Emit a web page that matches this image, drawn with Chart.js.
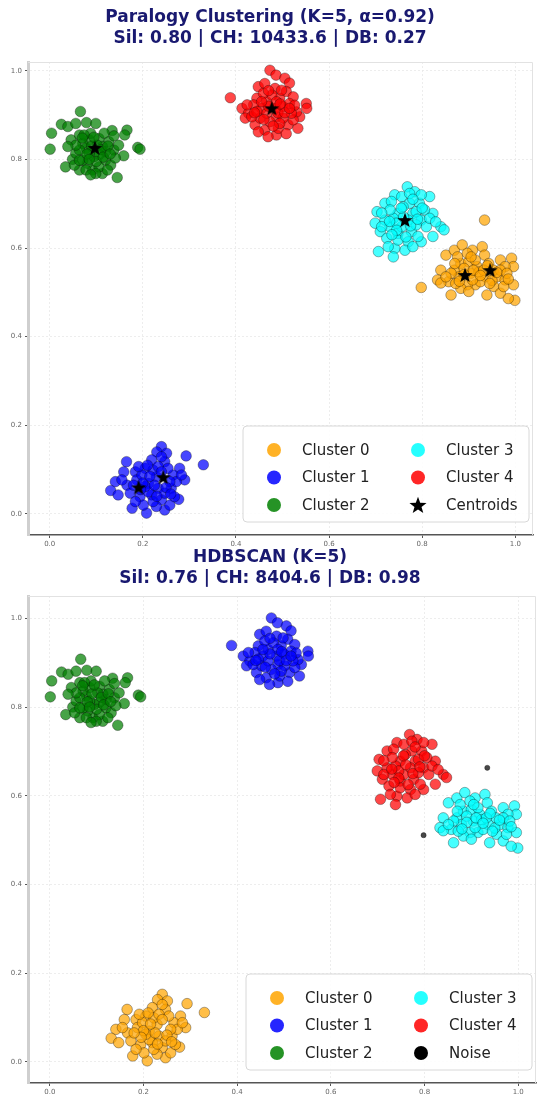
<!DOCTYPE html>
<html>
<head>
<meta charset="utf-8">
<script src="https://cdn.jsdelivr.net/npm/chart.js@4.4.1/dist/chart.umd.min.js"></script>
<style>
  html, body { margin: 0; padding: 0; background: #ffffff; width: 542px; height: 1094px; overflow: hidden; }
  canvas { position: absolute; left: 0; }
  #topChart { top: 0; }
  #bottomChart { top: 546px; }
</style>
</head>
<body>
<canvas id="topChart" width="542" height="548"></canvas>
<canvas id="bottomChart" width="542" height="548"></canvas>
<script>
// ---- tick values ----
const xTicks = [0.0, 0.2, 0.4, 0.6, 0.8, 1.0];
const yTicks = [0.0, 0.2, 0.4, 0.6, 0.8, 1.0];

// ---- point groups [x, y] ----
const ptsUpperLeft = [
  [0.066,0.908],[0.025,0.879],[0.039,0.874],[0.056,0.881],[0.079,0.883],[0.099,0.881],
  [0.004,0.859],[0.001,0.823],[0.134,0.865],[0.166,0.866],[0.161,0.855],[0.189,0.827],
  [0.194,0.823],[0.159,0.808],[0.049,0.800],[0.034,0.783],[0.064,0.776],[0.145,0.759],
  [0.113,0.768],[0.092,0.776],[0.046,0.844],[0.064,0.855],[0.127,0.840],[0.138,0.821],
  [0.078,0.825],[0.120,0.798],[0.106,0.783],[0.081,0.791],[0.056,0.814],[0.085,0.844],
  [0.106,0.847],[0.113,0.829],[0.071,0.836],[0.095,0.806],[0.071,0.798],[0.120,0.817],
  [0.088,0.859],[0.064,0.821],[0.106,0.811],[0.078,0.776],[0.131,0.787],[0.117,0.859],
  [0.056,0.832],[0.099,0.768],[0.141,0.803],[0.085,0.814],[0.053,0.787],[0.039,0.829],
  [0.102,0.832],[0.138,0.853],[0.074,0.855],[0.124,0.776],[0.088,0.765],[0.148,0.832],
  [0.064,0.798],[0.090,0.830],[0.110,0.822],[0.080,0.812],[0.100,0.795],[0.125,0.830],
  [0.070,0.848],[0.095,0.850],[0.115,0.805],[0.085,0.800],[0.130,0.812]
];
const ptsUpperMid = [
  [0.473,1.001],[0.486,0.990],[0.505,0.983],[0.515,0.972],[0.388,0.939],[0.448,0.964],
  [0.462,0.971],[0.484,0.960],[0.508,0.953],[0.523,0.941],[0.551,0.926],[0.552,0.915],
  [0.413,0.915],[0.427,0.904],[0.445,0.938],[0.420,0.893],[0.441,0.878],[0.462,0.866],
  [0.487,0.855],[0.491,0.870],[0.512,0.878],[0.533,0.870],[0.537,0.896],[0.530,0.907],
  [0.452,0.893],[0.466,0.930],[0.494,0.938],[0.501,0.919],[0.455,0.915],[0.487,0.896],
  [0.473,0.885],[0.438,0.923],[0.515,0.926],[0.523,0.889],[0.477,0.945],[0.459,0.949],
  [0.501,0.893],[0.434,0.896],[0.484,0.915],[0.466,0.904],[0.494,0.881],[0.448,0.862],
  [0.508,0.858],[0.498,0.956],[0.526,0.922],[0.424,0.923],[0.469,0.851],[0.519,0.904],
  [0.445,0.908],[0.487,0.930],[0.470,0.920],[0.490,0.905],[0.460,0.890],[0.505,0.905],
  [0.480,0.875],[0.455,0.930],[0.515,0.915],[0.470,0.955],[0.440,0.905],[0.495,0.925]
];
const ptsMidRight = [
  [0.768,0.738],[0.784,0.727],[0.741,0.720],[0.756,0.716],[0.816,0.716],[0.720,0.701],
  [0.734,0.705],[0.773,0.701],[0.794,0.701],[0.823,0.678],[0.703,0.682],[0.699,0.656],
  [0.710,0.637],[0.731,0.648],[0.748,0.678],[0.780,0.678],[0.798,0.663],[0.809,0.648],
  [0.840,0.648],[0.847,0.641],[0.823,0.626],[0.798,0.614],[0.770,0.614],[0.763,0.595],
  [0.741,0.599],[0.738,0.580],[0.706,0.592],[0.724,0.622],[0.748,0.633],[0.777,0.637],
  [0.787,0.652],[0.738,0.667],[0.720,0.663],[0.759,0.693],[0.805,0.686],[0.756,0.648],
  [0.731,0.686],[0.791,0.626],[0.713,0.648],[0.816,0.667],[0.770,0.663],[0.748,0.618],
  [0.798,0.720],[0.780,0.603],[0.727,0.603],[0.829,0.659],[0.745,0.656],[0.787,0.682],
  [0.773,0.723],[0.713,0.679],[0.760,0.670],[0.775,0.650],[0.745,0.640],[0.790,0.665],
  [0.755,0.690],[0.765,0.625],[0.730,0.660],[0.800,0.690],[0.780,0.710],[0.735,0.630]
];
const ptsRight = [
  [0.851,0.584],[0.869,0.595],[0.886,0.607],[0.908,0.595],[0.929,0.603],[0.934,0.584],
  [0.968,0.573],[0.992,0.577],[0.996,0.558],[0.978,0.558],[0.840,0.550],[0.833,0.528],
  [0.857,0.524],[0.869,0.550],[0.883,0.565],[0.900,0.569],[0.918,0.558],[0.936,0.535],
  [0.961,0.535],[0.978,0.528],[0.996,0.517],[0.954,0.513],[0.968,0.498],[0.939,0.494],
  [0.914,0.517],[0.897,0.517],[0.883,0.509],[0.862,0.494],[0.840,0.521],[0.999,0.482],
  [0.985,0.486],[0.904,0.543],[0.879,0.535],[0.922,0.546],[0.943,0.565],[0.900,0.502],
  [0.925,0.524],[0.876,0.580],[0.897,0.588],[0.953,0.550],[0.862,0.543],[0.914,0.573],
  [0.968,0.550],[0.890,0.554],[0.851,0.535],[0.950,0.527],[0.932,0.550],[0.982,0.543],
  [0.908,0.528],[0.872,0.520],[0.975,0.513],[0.890,0.540],[0.910,0.550],[0.940,0.560],
  [0.925,0.538],[0.880,0.525],[0.960,0.545],[0.905,0.580],[0.945,0.520],[0.870,0.565],
  [0.985,0.530]
];
const ptsStray = [[0.934,0.663],[0.798,0.511]];
const ptsLowerLeft = [
  [0.240,0.152],[0.230,0.140],[0.251,0.137],[0.293,0.131],[0.330,0.111],[0.165,0.118],
  [0.159,0.095],[0.141,0.073],[0.131,0.053],[0.147,0.043],[0.177,0.013],[0.208,0.002],
  [0.247,0.009],[0.258,0.020],[0.277,0.033],[0.290,0.077],[0.279,0.103],[0.265,0.088],
  [0.247,0.118],[0.219,0.122],[0.205,0.103],[0.184,0.095],[0.187,0.077],[0.166,0.065],
  [0.212,0.069],[0.229,0.084],[0.233,0.058],[0.219,0.043],[0.194,0.039],[0.240,0.032],
  [0.261,0.058],[0.272,0.073],[0.201,0.020],[0.173,0.047],[0.254,0.103],[0.222,0.099],
  [0.198,0.088],[0.212,0.050],[0.247,0.047],[0.229,0.017],[0.184,0.028],[0.268,0.039],
  [0.283,0.088],[0.240,0.129],[0.155,0.077],[0.205,0.062],[0.258,0.073],[0.191,0.107],
  [0.233,0.107],[0.222,0.028],[0.200,0.070],[0.225,0.065],[0.215,0.085],[0.240,0.095],
  [0.195,0.055],[0.250,0.060],[0.230,0.040],[0.180,0.065],[0.260,0.045],[0.210,0.110]
];
const centroidPts = [
  [0.097,0.826],[0.477,0.915],[0.763,0.663],[0.892,0.539],[0.946,0.550],[0.191,0.060],[0.244,0.083]
];

// ---- titles and labels ----
const topTitle = ['Paralogy Clustering (K=5, \u03b1=0.92)', 'Sil: 0.80 | CH: 10433.6 | DB: 0.27'];
const bottomTitle = ['HDBSCAN (K=5)', 'Sil: 0.76 | CH: 8404.6 | DB: 0.98'];
const clusterLabels = ['Cluster 0', 'Cluster 1', 'Cluster 2', 'Cluster 3', 'Cluster 4'];

// ---- colours ----
const palette = {
  orange: [255, 165, 0],
  blue: [0, 0, 255],
  green: [0, 128, 0],
  cyan: [0, 255, 255],
  red: [255, 0, 0],
  black: [0, 0, 0]
};
const rgba = (c, a) => `rgba(${c[0]},${c[1]},${c[2]},${a})`;
const toXY = arr => arr.map(p => ({ x: p[0], y: p[1] }));

// filled five-point star path
function starPath(ctx, cx, cy, R, r) {
  ctx.beginPath();
  for (let i = 0; i < 10; i++) {
    const rad = i % 2 === 0 ? R : r;
    const a = -Math.PI / 2 + i * Math.PI / 5;
    const px = cx + rad * Math.cos(a), py = cy + rad * Math.sin(a);
    if (i === 0) ctx.moveTo(px, py); else ctx.lineTo(px, py);
  }
  ctx.closePath();
}
const starImg = document.createElement('canvas');
starImg.width = 18; starImg.height = 18;
(function () {
  const c = starImg.getContext('2d');
  starPath(c, 9, 9.6, 8, 3.3);
  c.fillStyle = '#000';
  c.fill();
})();

function clusterSet(label, color, pts) {
  return {
    label, data: toXY(pts), legendColor: rgba(color, 0.85),
    backgroundColor: rgba(color, 0.72), borderColor: 'rgba(0,0,0,0.45)', borderWidth: 0.7,
    pointRadius: 5.3, pointHoverRadius: 5.3, order: 1
  };
}

// legend drawn inside the lower-right corner of the plot area, column-major
const insetLegend = {
  id: 'insetLegend',
  afterDatasetsDraw(chart) {
    const ca = chart.chartArea, ctx = chart.ctx;
    const w = 286, h = 96;
    const x0 = ca.right - 4 - w, y0 = ca.bottom - 13 - h;
    ctx.save();
    ctx.beginPath();
    if (ctx.roundRect) ctx.roundRect(x0, y0, w, h, 4); else ctx.rect(x0, y0, w, h);
    ctx.fillStyle = 'rgba(255,255,255,0.88)';
    ctx.fill();
    ctx.strokeStyle = '#d8d8d8';
    ctx.lineWidth = 1;
    ctx.stroke();
    ctx.font = '15px "DejaVu Sans"';
    ctx.textBaseline = 'middle';
    ctx.textAlign = 'left';
    chart.data.datasets.forEach((ds, i) => {
      const col = Math.floor(i / 3), row = i % 3;
      const mx = x0 + 31 + col * 144, my = y0 + 24 + row * 27.5;
      if (ds.pointStyle === starImg) {
        starPath(ctx, mx, my + 0.8, 9, 3.7);
        ctx.fillStyle = '#000';
        ctx.fill();
      } else {
        ctx.beginPath();
        ctx.arc(mx, my, 7, 0, Math.PI * 2);
        ctx.fillStyle = ds.legendColor;
        ctx.fill();
      }
      ctx.fillStyle = '#222';
      ctx.fillText(ds.label, mx + 28, my + 1);
    });
    ctx.restore();
  }
};

// light frame on the top and right sides of the plot area
const topRightFrame = {
  id: 'topRightFrame',
  beforeDatasetsDraw(chart) {
    const ca = chart.chartArea, ctx = chart.ctx;
    ctx.save();
    ctx.strokeStyle = '#e2e2e2';
    ctx.lineWidth = 1;
    ctx.beginPath();
    ctx.moveTo(ca.left, ca.top + 0.5);
    ctx.lineTo(ca.right - 0.5, ca.top + 0.5);
    ctx.lineTo(ca.right - 0.5, ca.bottom);
    ctx.stroke();
    ctx.restore();
  }
};

function makeChart(id, title, datasets, yMin, yMax, titlePad, xAxisH) {
  return new Chart(document.getElementById(id), {
    type: 'scatter',
    data: { datasets },
    plugins: [topRightFrame, insetLegend],
    options: {
      responsive: false,
      animation: false,
      devicePixelRatio: 1,
      layout: { padding: { left: 0, right: 2, top: 0, bottom: 0 } },
      plugins: {
        legend: { display: false },
        tooltip: { enabled: false },
        title: {
          display: true,
          text: title,
          color: '#191970',
          font: { family: '"DejaVu Sans"', size: 17, weight: 'bold', lineHeight: 1.25 },
          padding: titlePad
        }
      },
      scales: {
        x: {
          type: 'linear',
          min: -0.0466, max: 1.038,
          afterBuildTicks: s => { s.ticks = xTicks.map(v => ({ value: v })); },
          afterFit: s => { s.height = xAxisH; },
          ticks: {
            callback: v => v.toFixed(1),
            color: '#666', font: { family: '"DejaVu Sans"', size: 7 }, padding: 2, maxRotation: 0
          },
          grid: { color: '#e9e9e9', lineWidth: 0.8, tickColor: '#555', tickLength: 3, tickWidth: 1 },
          border: { display: true, color: '#555', width: 1.6, dash: [2, 2] }
        },
        y: {
          type: 'linear',
          min: yMin, max: yMax,
          afterBuildTicks: s => { s.ticks = yTicks.map(v => ({ value: v })); },
          afterFit: s => { s.width = 28; },
          ticks: {
            callback: v => v.toFixed(1),
            color: '#666', font: { family: '"DejaVu Sans"', size: 7 }, padding: 3
          },
          grid: { color: '#e9e9e9', lineWidth: 0.8, tickColor: '#555', tickLength: 3, tickWidth: 1 },
          border: { display: true, color: '#cfcfcf', width: 3, dash: [2, 2] }
        }
      }
    }
  });
}

// upper panel: paralogy clustering with centroids
makeChart('topChart', topTitle, [
  clusterSet(clusterLabels[0], palette.orange, ptsRight.concat(ptsStray)),
  clusterSet(clusterLabels[1], palette.blue, ptsLowerLeft),
  clusterSet(clusterLabels[2], palette.green, ptsUpperLeft),
  clusterSet(clusterLabels[3], palette.cyan, ptsMidRight),
  clusterSet(clusterLabels[4], palette.red, ptsUpperMid),
  {
    label: 'Centroids', data: toXY(centroidPts), pointStyle: starImg,
    pointRadius: 8, backgroundColor: '#000', borderColor: '#000', order: 0
  }
], -0.0474, 1.0196, { top: 7, bottom: 12.5 }, 13);

// lower panel: HDBSCAN labels with noise points
makeChart('bottomChart', bottomTitle, [
  clusterSet(clusterLabels[0], palette.orange, ptsLowerLeft),
  clusterSet(clusterLabels[1], palette.blue, ptsUpperMid),
  clusterSet(clusterLabels[2], palette.green, ptsUpperLeft),
  clusterSet(clusterLabels[3], palette.cyan, ptsRight),
  clusterSet(clusterLabels[4], palette.red, ptsMidRight),
  {
    label: 'Noise', data: toXY(ptsStray), legendColor: '#000',
    backgroundColor: 'rgba(40,40,40,0.85)', borderColor: 'rgba(0,0,0,0.6)', borderWidth: 0.5,
    pointRadius: 2.6, order: 0
  }
], -0.048, 1.0505, { top: 1, bottom: 6.5 }, 11);
</script>
</body>
</html>
